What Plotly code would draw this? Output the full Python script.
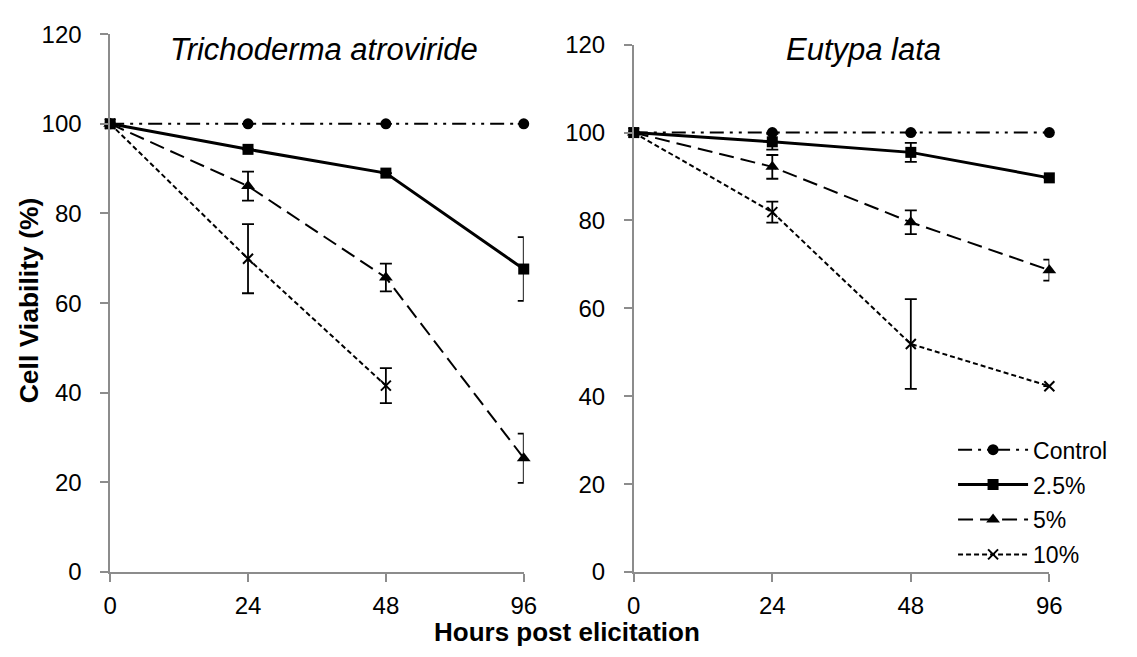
import plotly.graph_objects as go

W, H = 1137, 657

hours = ["0", "24", "48", "96"]
xpos = [0, 1, 2, 3]
series_names = ["Control", "2.5%", "5%", "10%"]

# Trichoderma atroviride
tri_control = [100, 100, 100, 100]
tri_25 = [100, 94.3, 89.0, 67.6]
tri_5 = [100, 86.1, 65.7, 25.4]
tri_10 = [100, 69.9, 41.6, None]
tri_control_err = [None, None, None, None]
tri_25_err = [None, None, None, 7.1]
tri_5_err = [None, 3.25, 3.1, 5.5]
tri_10_err = [None, 7.7, 3.9, None]

# Eutypa lata
eut_control = [100, 100, 100, 100]
eut_25 = [100, 97.9, 95.5, 89.7]
eut_5 = [100, 92.2, 79.6, 68.7]
eut_10 = [100, 81.9, 51.9, 42.3]
eut_control_err = [None, None, None, None]
eut_25_err = [None, 1.8, 2.15, None]
eut_5_err = [None, 2.7, 2.7, 2.4]
eut_10_err = [None, 2.4, 10.2, None]

yticks = [0, 20, 40, 60, 80, 100, 120]

styles = {
    "Control": dict(dash="14px,6px,3px,6px,3px,6px", width=2, symbol="circle", size=11, mline=0),
    "2.5%": dict(dash="solid", width=3, symbol="square", size=11, mline=0),
    "5%": dict(dash="15px,7px", width=2, symbol="triangle-up", size=12, mline=0),
    "10%": dict(dash="5px,3px", width=2, symbol="x-thin", size=10, mline=2),
}

FONT = "Liberation Sans, Arial"

fig = go.Figure()

panels = [
    ("x", "y", [tri_control, tri_25, tri_5, tri_10], [tri_control_err, tri_25_err, tri_5_err, tri_10_err], False),
    ("x2", "y2", [eut_control, eut_25, eut_5, eut_10], [eut_control_err, eut_25_err, eut_5_err, eut_10_err], True),
]

for xa, ya, vals, errs, show in panels:
    for name, v, e in zip(series_names, vals, errs):
        s = styles[name]
        fig.add_trace(go.Scatter(
            x=xpos, y=v, xaxis=xa, yaxis=ya, name=name,
            mode="lines+markers", showlegend=show, legendgroup=name,
            cliponaxis=False, connectgaps=False,
            line=dict(color="black", width=s["width"], dash=s["dash"]),
            marker=dict(symbol=s["symbol"], size=s["size"], color="black",
                        line=dict(color="black", width=s["mline"])),
            error_y=dict(type="data", array=e, visible=True, color="black",
                         thickness=1.8, width=6),
        ))

axis_common = dict(
    showline=True, linecolor="#8c8c8c", linewidth=1.5,
    ticks="outside", tickcolor="#8c8c8c", ticklen=8, tickwidth=1.5,
    showgrid=False, zeroline=False,
    tickfont=dict(family=FONT, size=24, color="black"),
)

fig.update_layout(
    width=W, height=H, autosize=False,
    margin=dict(l=0, r=0, t=0, b=0),
    paper_bgcolor="white", plot_bgcolor="white",
    font=dict(family=FONT, color="black"),
    xaxis=dict(domain=[105 / W, 526 / W], range=[0, 3], tickvals=xpos, ticktext=hours,
               anchor="y", ticklabelstandoff=3, **axis_common),
    xaxis2=dict(domain=[638 / W, 1061 / W], range=[0, 3], tickvals=xpos, ticktext=hours,
                anchor="y2", ticklabelstandoff=3, **axis_common),
    yaxis=dict(domain=[1 - 582 / H, 1 - 21 / H], range=[0, 120], tickvals=yticks,
               anchor="x", ticklabelstandoff=14, **axis_common),
    yaxis2=dict(domain=[1 - 582 / H, 1 - 32 / H], range=[0, 120], tickvals=yticks,
                anchor="x2", ticklabelstandoff=14, **axis_common),
    legend=dict(x=963 / W, y=1 - 432 / H, xanchor="left", yanchor="top",
                bgcolor="rgba(0,0,0,0)", itemwidth=70, tracegroupgap=2,
                font=dict(family=FONT, size=23, color="black")),
    annotations=[
        dict(text="<i>Trichoderma atroviride</i>", x=323 / W, y=1 - 37 / H, xref="paper", yref="paper",
             xanchor="center", yanchor="middle",
             showarrow=False, font=dict(size=31, family=FONT, color="black")),
        dict(text="<i>Eutypa lata</i>", x=872 / W, y=1 - 37 / H, xref="paper", yref="paper",
             xanchor="center", yanchor="middle",
             showarrow=False, font=dict(size=31, family=FONT, color="black")),
        dict(text="<b>Hours post elicitation</b>", x=570 / W, y=1 - 645 / H, xref="paper", yref="paper",
             xanchor="center", yanchor="middle",
             showarrow=False, font=dict(size=26, family=FONT, color="black")),
        dict(text="<b>Cell Viability (%)</b>", x=22 / W, y=1 - 299 / H, xref="paper", yref="paper",
             xanchor="center", yanchor="middle",
             showarrow=False, textangle=-90,
             font=dict(size=26.5, family=FONT, color="black")),
    ],
)

fig.write_html(
    "out.html",
    post_script=(
        "document.documentElement.style.margin='0';"
        "document.body.style.margin='0';"
        "document.documentElement.style.overflow='hidden';"
        "document.body.style.overflow='hidden';"
    ),
)
